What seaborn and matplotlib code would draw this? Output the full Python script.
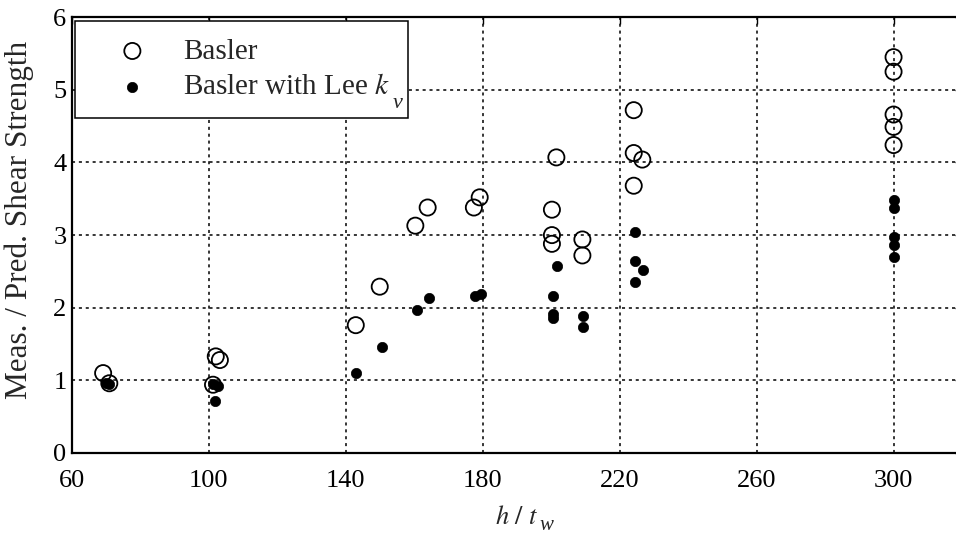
import matplotlib
matplotlib.use("Agg")
import matplotlib.pyplot as plt
import seaborn as sns
import pandas as pd

# Basler (open circles)
basler_x = [69.1, 70.9, 102.0, 103.2, 101.2, 142.9, 149.9, 160.3, 163.9, 177.4, 179.1,
            201.5, 200.2, 200.2, 200.2, 209.1, 209.1, 224.1, 224.1, 226.6, 224.1,
            300.0, 300.0, 300.0, 300.0, 300.0]
basler_y = [1.10, 0.96, 1.33, 1.28, 0.94, 1.76, 2.29, 3.13, 3.38, 3.38, 3.52,
            4.07, 3.35, 3.00, 2.88, 2.94, 2.72, 4.72, 4.13, 4.04, 3.68,
            5.45, 5.25, 4.66, 4.49, 4.24]

# Basler with Lee k_v (filled dots)
lee_x = [70.0, 70.8, 101.3, 102.7, 101.8, 143.0, 150.6, 160.7, 164.2, 177.7, 179.4,
         201.7, 200.5, 200.5, 200.5, 209.3, 209.3, 224.6, 224.6, 226.9, 224.6,
         300.0, 300.0, 300.0, 300.0, 300.0]
lee_y = [0.97, 0.95, 0.95, 0.92, 0.71, 1.10, 1.46, 1.97, 2.13, 2.16, 2.19,
         2.57, 2.16, 1.92, 1.86, 1.89, 1.74, 3.04, 2.65, 2.52, 2.36,
         3.48, 3.37, 2.98, 2.87, 2.70]

x_ticks = [60, 100, 140, 180, 220, 260, 300]
y_ticks = [0, 1, 2, 3, 4, 5, 6]

sns.set_theme(style="white")
plt.rcParams['font.family'] = ['Liberation Serif', 'DejaVu Serif']
plt.rcParams['mathtext.fontset'] = 'stix'

fig = plt.figure(figsize=(9.56, 5.38), dpi=100)
ax = fig.add_axes([0.0753, 0.158, 0.931, 0.810])

df_b = pd.DataFrame({"x": basler_x, "y": basler_y})
df_l = pd.DataFrame({"x": lee_x, "y": lee_y})

sns.scatterplot(data=df_b, x="x", y="y", ax=ax, s=135, marker="o",
                facecolor="none", edgecolor="black", linewidth=1.3,
                label="Basler", zorder=3)
sns.scatterplot(data=df_l, x="x", y="y", ax=ax, s=55, marker="o",
                color="black", edgecolor="black", linewidth=0.5,
                label=r"Basler with Lee $k$", zorder=4)

ax.set_xlim(60, 320)
ax.set_ylim(0, 6)
ax.set_xticks(x_ticks)
ax.set_yticks(y_ticks)
ax.tick_params(direction="in", length=5, width=1, top=True, right=True,
               labelsize=19, colors="black")
ax.tick_params(axis="x", pad=12)
ax.tick_params(axis="y", pad=4)
ax.grid(True, color="black", linestyle=(0, (2, 2.5)), linewidth=1.1)
for sp in ax.spines.values():
    sp.set_color("black")
    sp.set_linewidth(1.6)

ax.set_xlabel(r"$h\ /\ t$", fontsize=19, labelpad=10)
ax.set_ylabel("Meas. / Pred. Shear Strength", fontsize=22.5)
ax.yaxis.set_label_coords(-0.043, 0.535)

leg = ax.legend(loc="upper left", fontsize=21, frameon=True, fancybox=False,
                borderaxespad=0.12, handletextpad=0.4, borderpad=0.6,
                handlelength=2.7, labelspacing=0.32)
leg.get_frame().set_edgecolor("black")
leg.get_frame().set_linewidth(1.1)
leg.get_frame().set_alpha(1)

# low subscripts, drawn next to their base letters
fig.canvas.draw()
r = fig.canvas.get_renderer()
W, H = fig.bbox.width, fig.bbox.height
bb = leg.get_texts()[1].get_window_extent(r)
fig.text((bb.x1 + 2) / W, (bb.y0 - 13) / H, "v", fontsize=16, style="italic",
         family="Liberation Serif", ha="left", va="bottom")
bb = ax.xaxis.label.get_window_extent(r)
fig.text((bb.x1 + 1) / W, (bb.y0 - 6) / H, "w", fontsize=15, style="italic",
         family="Liberation Serif", ha="left", va="bottom")

fig.savefig("out.png", dpi=100)
